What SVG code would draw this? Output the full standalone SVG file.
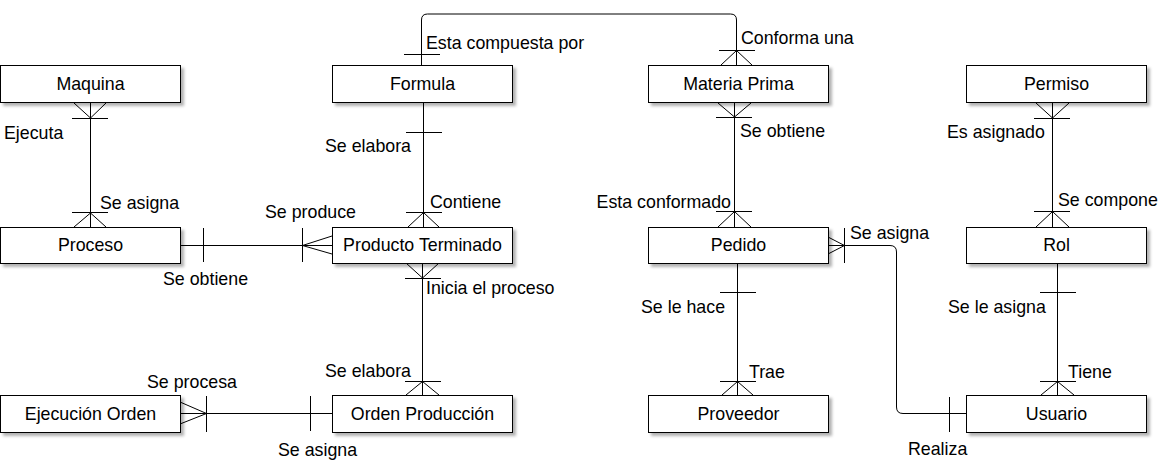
<svg xmlns="http://www.w3.org/2000/svg" width="1162" height="460" viewBox="0 0 1162 460">
<style>
text{font-family:"Liberation Sans",Arial,sans-serif;font-size:17.8px;fill:#000}
.box rect{fill:#fff;stroke:#000;stroke-width:1;filter:url(#sh)}
.box text{text-anchor:middle}
#connectors path{fill:none;stroke:#000;stroke-width:1}
</style>
<defs>
<filter id="sh" x="-10%" y="-20%" width="130%" height="160%">
<feDropShadow dx="3" dy="3" stdDeviation="1.5" flood-color="#000" flood-opacity="0.3"/>
</filter>
</defs>
<rect width="1162" height="460" fill="#fff"/>
<g id="connectors">
<path d="M90.5,103V227M72,118.5H108M72,212.5H108M74,103L90.5,118L106,103M74,227L90.5,213L106,227"/>
<path d="M180,245.5H332M203.5,228V262M302.5,228V262M332,236L302.5,245.5L332,254"/>
<path d="M423.5,103V227M406,132.5H442M406,212.5H442M408,227L423.5,212.5L439,227"/>
<path d="M422.5,263V395M406,263L422.5,278L439,263M405,278.5H441M405,381.5H441M406,395L422.5,381.5L439,395"/>
<path d="M180,413.5H332M180,402L206.5,413.5L180,424M206.5,396V432M310.5,396V431"/>
<path d="M421.5,65V20Q421.5,14 427.5,14H730.5Q736.5,14 736.5,20V65M404,54.5H440M719,50.5H755M721,65L736.5,50.5L752,65"/>
<path d="M734.5,103V227M718,103L734.5,117L751,103M716,117.5H752M716,211.5H752M718,227L734.5,211.5L751,227"/>
<path d="M737.5,263V395M720,292.5H756M720,381.5H756M722,395L737.5,381.5L753,395"/>
<path d="M828,245.5H890Q896.5,245.5 896.5,252V407Q896.5,413.5 903,413.5H966M828,237L844.5,245.5L828,254M844.5,228V263M949.5,397V432"/>
<path d="M1052.5,103V227M1036,103L1052.5,118L1069,103M1034,118.5H1070M1034,211.5H1070M1036,227L1052.5,211.5L1069,227"/>
<path d="M1057.5,263V395M1040,292.5H1076M1040,381.5H1076M1041,395L1057.5,381.5L1074,395"/>
</g>
<g id="labels">
<text x="4" y="139">Ejecuta</text>
<text x="100" y="209">Se asigna</text>
<text x="265" y="218">Se produce</text>
<text x="163" y="285">Se obtiene</text>
<text x="325" y="152">Se elabora</text>
<text x="430" y="208">Contiene</text>
<text x="426" y="294">Inicia el proceso</text>
<text x="325" y="377">Se elabora</text>
<text x="147" y="388">Se procesa</text>
<text x="278" y="456">Se asigna</text>
<text x="426" y="49">Esta compuesta por</text>
<text x="741" y="44">Conforma una</text>
<text x="740" y="137">Se obtiene</text>
<text x="731" y="208" text-anchor="end">Esta conformado</text>
<text x="850" y="239">Se asigna</text>
<text x="641" y="313">Se le hace</text>
<text x="749" y="378">Trae</text>
<text x="948" y="313">Se le asigna</text>
<text x="1068" y="378">Tiene</text>
<text x="908" y="455">Realiza</text>
<text x="947" y="138">Es asignado</text>
<text x="1058" y="206">Se compone</text>
</g>
<g id="maquina" class="box"><rect x="0.5" y="65.5" width="180" height="37"/><text x="90.5" y="90">Maquina</text></g>
<g id="formula" class="box"><rect x="332.5" y="65.5" width="180" height="37"/><text x="422.5" y="90">Formula</text></g>
<g id="materia-prima" class="box"><rect x="648.5" y="65.5" width="180" height="37"/><text x="738.5" y="90">Materia Prima</text></g>
<g id="permiso" class="box"><rect x="966.5" y="65.5" width="180" height="37"/><text x="1056.5" y="90">Permiso</text></g>
<g id="proceso" class="box"><rect x="0.5" y="227.5" width="180" height="36"/><text x="90.5" y="251">Proceso</text></g>
<g id="producto-terminado" class="box"><rect x="332.5" y="227.5" width="180" height="36"/><text x="422.5" y="251">Producto Terminado</text></g>
<g id="pedido" class="box"><rect x="648.5" y="227.5" width="180" height="36"/><text x="738.5" y="251">Pedido</text></g>
<g id="rol" class="box"><rect x="966.5" y="227.5" width="180" height="36"/><text x="1056.5" y="251">Rol</text></g>
<g id="ejecucion-orden" class="box"><rect x="0.5" y="395.5" width="180" height="37"/><text x="90.5" y="420">Ejecución Orden</text></g>
<g id="orden-produccion" class="box"><rect x="332.5" y="395.5" width="180" height="37"/><text x="422.5" y="420">Orden Producción</text></g>
<g id="proveedor" class="box"><rect x="648.5" y="395.5" width="180" height="37"/><text x="738.5" y="420">Proveedor</text></g>
<g id="usuario" class="box"><rect x="966.5" y="395.5" width="180" height="37"/><text x="1056.5" y="420">Usuario</text></g>
</svg>
